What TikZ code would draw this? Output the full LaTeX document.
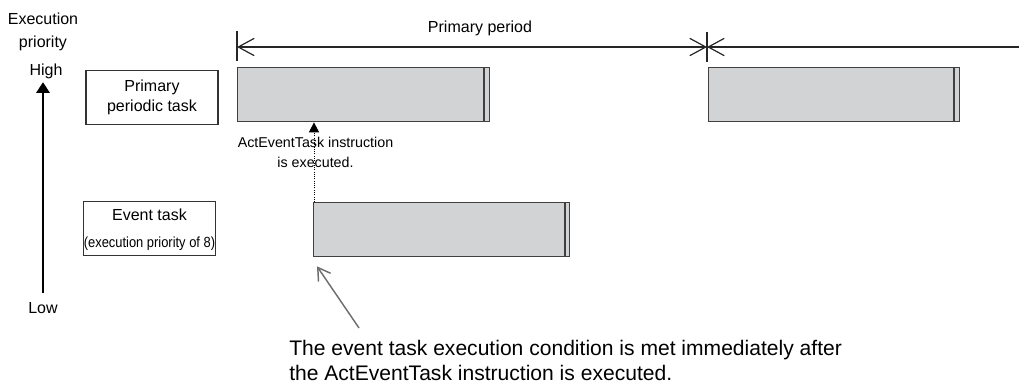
\documentclass[tikz,border=0pt]{standalone}
\usepackage{fontspec}
\setmainfont{Liberation Sans}
\usetikzlibrary{arrows.meta}
\definecolor{barfill}{HTML}{D1D3D4}
\definecolor{notegrey}{HTML}{6D6E71}
\begin{document}
\begin{tikzpicture}[x=0.75pt,y=-0.75pt,
  every node/.style={font=\fontsize{12}{15}\selectfont, inner sep=0pt},
  taskbox/.style={draw=black!80, line width=0.8pt, minimum width=99pt, minimum height=40pt, align=center},
  bar/.style={draw=black!75, fill=barfill, line width=1pt, anchor=north west, minimum height=40.5pt},
  barend/.style={draw=black!75, line width=1.3pt},
  dimline/.style={line width=0.9pt, black!85, >={Straight Barb[length=12pt,width=13pt]}}]
\useasboundingbox (0,0) rectangle (1019,383);
% priority axis
\node (execlabel) at (43,19) {Execution};
\node (priolabel) at (43,43) {priority};
\node (highlabel) at (46,71) {High};
\node (lowlabel) at (43,308) {Low};
\draw[line width=1.5pt, -{Triangle[length=8pt,width=10pt]}, shorten <=6.5pt, shorten >=2.6pt] (lowlabel.north) -- (lowlabel.north |- highlabel.south);
% primary period
\coordinate (perstart) at (237,47);
\coordinate (permid) at (707,47);
\coordinate (perend) at (1019,47);
\draw[dimline] (237,31) -- (237,61);
\draw[dimline] (707,32) -- (707,62);
\draw[dimline,<->] (perstart) -- (permid);
\draw[dimline,<-] (permid) -- (perend);
\node (perlabel) at (480,28) {Primary period};
% task names
\node[taskbox] (primbox) at (152,97.5) {Primary\\periodic task};
\node[taskbox, font=\fontsize{12}{20}\selectfont, text depth=0pt] (evbox) at (149.5,228.5) {Event task\\{\fontsize{11}{20}\selectfont\scalebox{0.88}[1]{(execution priority of 8)}}};
% bars
\node[bar, minimum width=189pt] (pbarA) at (237,67) {};
\node[bar, minimum width=188.25pt] (pbarB) at (708,67) {};
\node[bar, minimum width=192pt] (evbar) at (313,202) {};
\draw[barend] ([xshift=-5pt]pbarA.north east) -- ([xshift=-5pt]pbarA.south east);
\draw[barend] ([xshift=-5pt]pbarB.north east) -- ([xshift=-5pt]pbarB.south east);
\draw[barend] ([xshift=-4pt]evbar.north east) -- ([xshift=-4pt]evbar.south east);
% instruction
\draw[densely dotted, line width=0.7pt, -{Triangle[length=7.5pt,width=7.5pt]}] ([xshift=0.75pt]evbar.north west) -- ([xshift=0.75pt]evbar.north west |- pbarA.south);
\node[font=\fontsize{10.7}{15}\selectfont, align=center] (actlabel) at (315.5,152) {ActEventTask instruction\\is executed.};
% condition note
\coordinate (notetail) at (359,328);
\draw[notegrey, line width=1.1pt, -{Straight Barb[length=9pt,width=11pt]}] (notetail) -- ([shift={(4,9)}]evbar.south west);
\node[font=\fontsize{15.8}{19}\selectfont, anchor=base west] (notelineA) at (289,355) {The event task execution condition is met immediately after};
\node[font=\fontsize{15.8}{19}\selectfont, anchor=base west] (notelineB) at (289,380) {the ActEventTask instruction is executed.};
\end{tikzpicture}
\end{document}
